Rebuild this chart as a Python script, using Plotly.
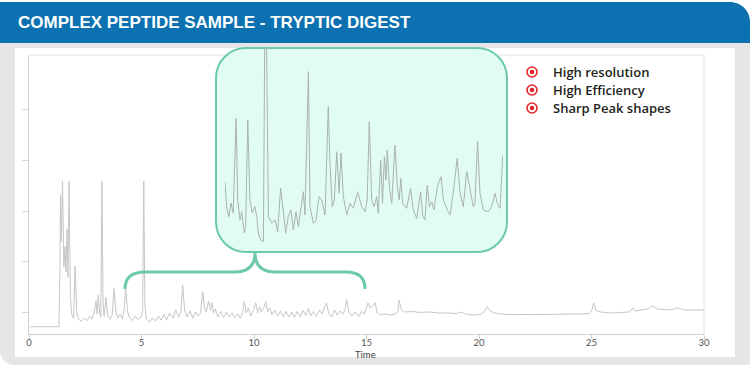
import plotly.graph_objects as go

W, H = 750, 365

# ---------------- data ----------------
# main chromatogram (time in min, signal in arbitrary units)
time_min = [0.05, 1.33, 1.38, 1.40, 1.44, 1.49, 1.55, 1.60, 1.64, 1.69, 1.73, 1.78, 1.84, 1.90, 1.98, 2.05, 2.12, 2.20,
            2.32, 2.45, 2.58, 2.70, 2.80, 2.90, 2.98, 3.03, 3.08, 3.14, 3.19, 3.24, 3.29, 3.34, 3.42, 3.50, 3.60, 3.70,
            3.78, 3.86, 3.95, 4.05, 4.15, 4.22, 4.30, 4.38, 4.48, 4.60, 4.72, 4.85, 4.98, 5.05, 5.10, 5.15, 5.22, 5.35,
            5.50, 5.62, 5.75, 5.87, 6.00, 6.12, 6.25, 6.40, 6.52, 6.65, 6.75, 6.83, 6.92, 7.02, 7.15, 7.28, 7.40, 7.52,
            7.62, 7.72, 7.80, 7.88, 7.98, 8.07, 8.13, 8.20, 8.28, 8.40, 8.52, 8.65, 8.78, 8.90, 9.02, 9.15, 9.28, 9.40,
            9.50, 9.57, 9.65, 9.75, 9.85, 9.97, 10.08, 10.16, 10.25, 10.32, 10.42, 10.52, 10.60, 10.70, 10.80, 10.92,
            11.05, 11.18, 11.30, 11.42, 11.55, 11.68, 11.80, 11.92, 12.05, 12.18, 12.30, 12.42, 12.52, 12.65, 12.78,
            12.90, 13.02, 13.12, 13.22, 13.32, 13.45, 13.58, 13.70, 13.82, 13.95, 14.05, 14.12, 14.22, 14.35, 14.50,
            14.65, 14.78, 14.90, 15.00, 15.07, 15.15, 15.25, 15.38, 15.48, 15.60, 15.80, 16.05, 16.30, 16.40, 16.45,
            16.55, 16.70, 17.00, 17.40, 17.80, 18.20, 18.60, 19.00, 19.20, 19.40, 19.80, 20.10, 20.25, 20.36, 20.50,
            20.70, 21.00, 21.50, 22.50, 23.50, 24.50, 24.90, 25.02, 25.10, 25.20, 25.40, 25.80, 26.30, 26.70, 26.84,
            26.95, 27.20, 27.50, 27.70, 27.95, 28.30, 28.60, 28.80, 29.10, 29.50, 30.00]
signal = [-2.7, -2.7, 10.0, 23.1, 14.0, 25.9, 9.0, 13.0, 8.0, 16.5, 7.0, 25.9, 3.0, -0.3, -1.0, 9.2, 0.3, -1.2,
          -1.6, -1.0, -1.5, -0.6, -1.2, 0.2, 2.4, -0.2, 3.5, 0.0, -0.8, 25.9, 2.0, -0.6, 3.0, -0.5, -1.2, -0.3,
          4.8, 0.2, -1.0, -0.2, -1.2, 0.3, 4.8, 0.3, -1.0, -1.5, -0.6, -1.3, -0.8, 0.5, 25.9, 1.5, -1.2, -1.8,
          -1.0, -1.6, -0.6, -1.4, -0.3, -1.3, 0.0, -1.0, 0.6, -0.8, 0.2, 5.5, 0.4, -0.8, 0.4, -1.0, 0.2, -0.6,
          0.0, 4.1, 1.0, 0.2, 2.3, 0.5, 2.0, 0.0, 0.8, -0.8, 0.3, -0.9, 0.2, -0.8, 0.0, -0.9, -0.2, -1.0,
          0.2, 2.2, 0.0, 1.0, -0.6, 0.5, 2.0, 0.0, 1.2, 0.2, 0.8, 2.2, 0.2, 1.0, -0.4, 0.6,
          -0.6, 0.4, -0.8, 0.3, -0.8, 0.2, -0.9, 0.3, -0.7, 0.5, -0.5, 0.9, -0.6, 0.3, -0.7,
          0.6, -0.2, 0.8, 2.0, 0.0, -0.8, 0.6, -0.4, 0.4, -0.2, 0.8, 2.6, 0.2, -0.6, 0.2,
          -0.7, 0.3, -0.2, 1.0, 2.0, 1.0, 1.2, 2.0, 0.0, -0.4, -0.2, -0.4, -0.2, 0.4, 2.5,
          0.6, 0.2, 0.3, 0.1, 0.2, 0.0, 0.0, -0.1, 0.2, -0.2, -0.4, -0.2, 0.4, 1.2, 0.4,
          0.0, -0.2, -0.3, -0.3, -0.3, -0.2, -0.1, 0.6, 2.0, 0.5, 0.2, 0.0, 0.1, 0.2, 1.0,
          0.4, 0.6, 0.8, 1.4, 0.8, 0.6, 0.7, 1.0, 0.6, 0.6, 0.6]

# zoomed inset (4.5 - 15 min), re-scaled signal
inset_time = [4.50, 4.56, 4.65, 4.73, 4.81, 4.92, 4.98, 5.07, 5.13, 5.23, 5.28, 5.36, 5.44, 5.53, 5.63, 5.70, 5.76,
              5.85, 5.95, 6.00, 6.07, 6.11, 6.14, 6.26, 6.39, 6.49, 6.60, 6.70, 6.79, 6.89, 6.99, 7.08, 7.18, 7.27,
              7.37, 7.46, 7.52, 7.65, 7.71, 7.84, 7.94, 8.05, 8.15, 8.28, 8.40, 8.47, 8.55, 8.63, 8.72, 8.81, 8.88,
              8.97, 9.10, 9.22, 9.35, 9.51, 9.66, 9.79, 9.87, 9.95, 10.04, 10.13, 10.23, 10.29, 10.38, 10.45, 10.52,
              10.58, 10.63, 10.71, 10.80, 10.92, 11.01, 11.08, 11.14, 11.21, 11.36, 11.51, 11.61, 11.74, 11.89,
              11.97, 12.05, 12.14, 12.22, 12.31, 12.39, 12.52, 12.66, 12.75, 12.90, 13.00, 13.12, 13.27, 13.38,
              13.50, 13.63, 13.75, 13.88, 13.94, 14.04, 14.13, 14.26, 14.44, 14.57, 14.70, 14.78, 14.89, 14.99]
inset_signal = [60.3, 35.3, 25.3, 39.0, 29.0, 123.7, 42.0, 22.0, 30.3, 9.0, 15.3, 122.0, 42.0, 29.0, 35.3, 25.3, 9.0,
                2.0, 0.5, 200.0, 200.0, 40.0, 25.3, 19.0, 22.0, 10.3, 53.7, 32.0, 8.7, 25.3, 32.0, 12.0, 30.3, 15.3,
                32.0, 50.3, 27.0, 170.3, 35.3, 18.7, 22.0, 45.3, 42.0, 27.0, 135.3, 75.3, 35.3, 42.0, 90.3, 49.0, 89.0,
                45.3, 27.0, 38.7, 33.7, 50.3, 35.3, 30.3, 42.0, 120.3, 42.0, 35.3, 45.3, 28.7, 82.0, 38.7, 85.3,
                62.0, 92.0, 55.3, 38.7, 97.0, 55.3, 42.0, 63.7, 38.7, 33.7, 53.7, 32.0, 23.7, 50.3,
                25.3, 22.0, 57.0, 35.3, 40.3, 32.0, 55.3, 65.3, 42.0, 32.0, 27.0, 48.7, 83.7, 48.7,
                35.3, 70.3, 52.0, 35.3, 38.7, 100.3, 48.7, 32.0, 30.3, 35.3, 48.7, 38.7, 33.7, 87.0]

x_ticks = [0, 5, 10, 15, 20, 25, 30]
y_ticks = [0, 10, 20, 30, 40]
title_text = "COMPLEX PEPTIDE SAMPLE - TRYPTIC DIGEST"
features = ["High resolution", "High Efficiency", "Sharp Peak shapes"]
x_title = "Time"

# ---------------- helpers (pixel -> paper) ----------------
def px(x):
    return x / W


def py(y):
    return 1 - y / H


def pt(x, y):
    return f"{px(x):.5f},{py(y):.5f}"


def rounded_path(x0, y0, x1, y1, rtl=0, rtr=0, rbr=0, rbl=0):
    k = 0.5523
    d = f"M {pt(x0 + rtl, y0)} L {pt(x1 - rtr, y0)} "
    if rtr:
        d += f"C {pt(x1 - rtr + k * rtr, y0)} {pt(x1, y0 + rtr - k * rtr)} {pt(x1, y0 + rtr)} "
    d += f"L {pt(x1, y1 - rbr)} "
    if rbr:
        d += f"C {pt(x1, y1 - rbr + k * rbr)} {pt(x1 - rbr + k * rbr, y1)} {pt(x1 - rbr, y1)} "
    d += f"L {pt(x0 + rbl, y1)} "
    if rbl:
        d += f"C {pt(x0 + rbl - k * rbl, y1)} {pt(x0, y1 - rbl + k * rbl)} {pt(x0, y1 - rbl)} "
    d += f"L {pt(x0, y0 + rtl)} "
    if rtl:
        d += f"C {pt(x0, y0 + rtl - k * rtl)} {pt(x0 + rtl - k * rtl, y0)} {pt(x0 + rtl, y0)} "
    return d + "Z"


TEAL = "#6cc9ad"
RED = "#e5262b"

fig = go.Figure()
fig.add_trace(go.Scatter(x=time_min, y=signal, mode="lines",
                         line=dict(color="#c6c6c6", width=1), hoverinfo="skip"))
fig.add_trace(go.Scatter(x=inset_time, y=inset_signal, mode="lines", xaxis="x2", yaxis="y2",
                         line=dict(color="#aab3b0", width=1), hoverinfo="skip"))

shapes = []
# grey frame with rounded bottom-left corner
shapes.append(dict(type="path", xref="paper", yref="paper", layer="below",
                   path=rounded_path(0, 42, W, H, rbl=14), fillcolor="#e6e6e6", line=dict(width=0)))
# white panel
shapes.append(dict(type="rect", xref="paper", yref="paper", layer="below",
                   x0=px(15), x1=px(735), y0=py(357), y1=py(48), fillcolor="white", line=dict(width=0)))
# blue title bar
shapes.append(dict(type="path", xref="paper", yref="paper", layer="below",
                   path=rounded_path(0, 2, W, 43, rtr=20), fillcolor="#0b71b0", line=dict(width=0)))
# plot frame top & right
shapes.append(dict(type="line", xref="paper", yref="paper", layer="below",
                   x0=px(29), x1=px(704), y0=py(55), y1=py(55), line=dict(color="#e3e3e3", width=1)))
shapes.append(dict(type="line", xref="paper", yref="paper", layer="below",
                   x0=px(704), x1=px(704), y0=py(55), y1=py(334), line=dict(color="#e3e3e3", width=1)))
# inset callout box
shapes.append(dict(type="path", xref="paper", yref="paper", layer="below",
                   path=rounded_path(216, 48, 507, 252, rtl=30, rtr=30, rbr=30, rbl=30),
                   fillcolor="#e0fcf4", line=dict(color=TEAL, width=2)))
# curly bracket
bracket = (f"M {pt(125, 289)} Q {pt(125, 272)} {pt(145, 272)} L {pt(234, 272)} "
           f"Q {pt(255, 272)} {pt(255, 253)} Q {pt(255, 272)} {pt(276, 272)} "
           f"L {pt(346, 272)} Q {pt(365, 272)} {pt(365, 289)}")
shapes.append(dict(type="path", xref="paper", yref="paper", layer="above",
                   path=bracket, line=dict(color=TEAL, width=3)))
# bullets
bullet_y = [72, 90, 108]
for yy in bullet_y:
    shapes.append(dict(type="circle", xref="paper", yref="paper", xsizemode="pixel", ysizemode="pixel",
                       xanchor=px(532), yanchor=py(yy), x0=-5, x1=5, y0=-5, y1=5,
                       fillcolor="white", line=dict(color=RED, width=1.6)))
    shapes.append(dict(type="circle", xref="paper", yref="paper", xsizemode="pixel", ysizemode="pixel",
                       xanchor=px(532), yanchor=py(yy), x0=-2.3, x1=2.3, y0=-2.3, y1=2.3,
                       fillcolor=RED, line=dict(width=0)))

annotations = [
    dict(text=title_text, xref="paper", yref="paper", x=px(16), y=py(23), xanchor="left", yanchor="middle",
         showarrow=False, font=dict(family="Liberation Sans", size=17, color="white", weight="bold")),
    dict(text=x_title, xref="paper", yref="paper", x=px(365), y=py(354), xanchor="center", yanchor="middle",
         showarrow=False, font=dict(family="Lato", size=9.5, color="#444444")),
]
for yy, txt in zip(bullet_y, features):
    annotations.append(dict(text=txt, xref="paper", yref="paper", x=px(551), y=py(yy), xanchor="left",
                            yanchor="middle", showarrow=False,
                            font=dict(family="Open Sans", size=13, color="#231f20", weight=600)))

fig.update_layout(
    template="none",
    width=W, height=H, autosize=False, margin=dict(l=0, r=0, t=0, b=0, pad=0),
    paper_bgcolor="white", plot_bgcolor="rgba(0,0,0,0)", showlegend=False,
    shapes=shapes, annotations=annotations,
    xaxis=dict(domain=[px(29), px(704)], range=[0, 30], tickvals=x_ticks, ticks="outside", ticklen=4,
               tickcolor="#cccccc", showline=True, linecolor="#cfcfcf", linewidth=1, showgrid=False,
               zeroline=False, tickfont=dict(family="Lato", size=9.5, color="#555555"), anchor="y",
               ticklabelstandoff=-4, automargin=False),
    yaxis=dict(domain=[py(334), py(55)], range=[-4.12, 50.59], tickvals=y_ticks, showticklabels=False,
               ticks="outside", ticklen=6, tickcolor="#d8d8d8", showline=True, linecolor="#cfcfcf",
               showgrid=False, zeroline=False, anchor="x", automargin=False),
    xaxis2=dict(domain=[px(225), px(503)], range=[4.5, 15.0], visible=False, anchor="y2", automargin=False),
    yaxis2=dict(domain=[py(242), py(48)], range=[0, 194], visible=False, anchor="x2", automargin=False),
)

fig.write_html("out.html", config={"displayModeBar": False, "responsive": False},
               post_script="document.body.style.margin='0px';document.body.style.overflow='hidden';")
